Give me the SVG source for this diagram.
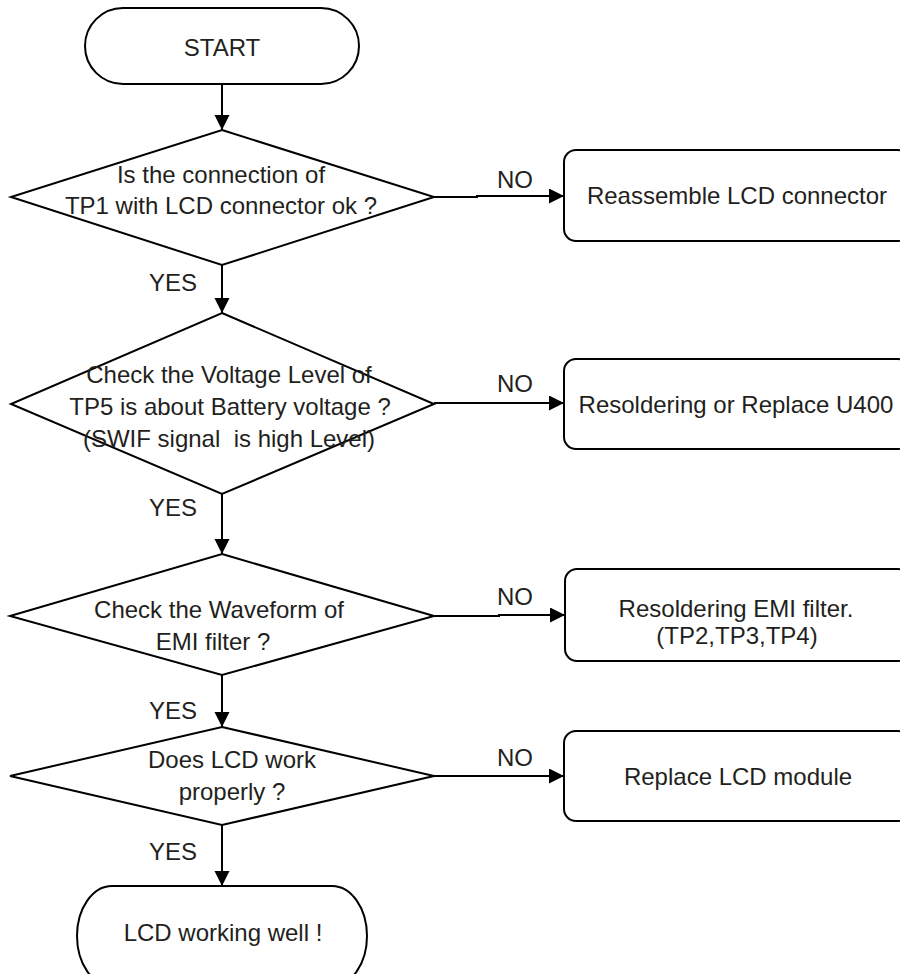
<svg xmlns="http://www.w3.org/2000/svg" width="900" height="974" viewBox="0 0 900 974">
<style>
.shape{fill:#fff;stroke:#000;stroke-width:2}
.conn{fill:none;stroke:#000;stroke-width:2}
text{font-family:"Liberation Sans",Arial,sans-serif;font-size:24px;fill:#231f20;text-anchor:middle;white-space:pre}
</style>
<defs>
<marker id="arr" markerUnits="userSpaceOnUse" markerWidth="16" markerHeight="16" refX="15" refY="7.5" orient="auto">
<path d="M0,0 L15,7.5 L0,15 Z" fill="#000"/>
</marker>
</defs>
<rect width="900" height="974" fill="#fff"/>
<g id="connectors">
<path class="conn" d="M222,84 V130" marker-end="url(#arr)"/>
<path class="conn" d="M222,265 V313" marker-end="url(#arr)"/>
<path class="conn" d="M222,494 V554" marker-end="url(#arr)"/>
<path class="conn" d="M222,675 V727" marker-end="url(#arr)"/>
<path class="conn" d="M222,825 V886" marker-end="url(#arr)"/>
<path class="conn" d="M434,197 H477 V196 H564" marker-end="url(#arr)"/>
<path class="conn" d="M434,403 H564" marker-end="url(#arr)"/>
<path class="conn" d="M434,616 H499 V615 H565" marker-end="url(#arr)"/>
<path class="conn" d="M434,776 H564" marker-end="url(#arr)"/>
<text x="173" y="291">YES</text>
<text x="173" y="516">YES</text>
<text x="173" y="719">YES</text>
<text x="173" y="860">YES</text>
<text x="515" y="188">NO</text>
<text x="515" y="392">NO</text>
<text x="515" y="605">NO</text>
<text x="515" y="766">NO</text>
</g>
<g id="start">
<rect class="shape" x="85" y="8" width="274" height="76" rx="38" ry="38"/>
<text x="222" y="56">START</text>
</g>
<g id="d1">
<polygon class="shape" points="222,130 434,197 222,265 11,197"/>
<text x="221" y="183">Is the connection of</text>
<text x="221" y="214">TP1 with LCD connector ok ?</text>
</g>
<g id="b1">
<rect class="shape" x="564" y="150" width="346" height="91" rx="12"/>
<text x="737" y="204">Reassemble LCD connector</text>
</g>
<g id="d2">
<polygon class="shape" points="222,313 434,404 222,494 11,404"/>
<text x="229" y="383">Check the Voltage Level of</text>
<text x="230" y="415">TP5 is about Battery voltage ?</text>
<text x="229" y="447">(SWIF signal  is high Level)</text>
</g>
<g id="b2">
<rect class="shape" x="564" y="359" width="346" height="90" rx="12"/>
<text x="736" y="413">Resoldering or Replace U400</text>
</g>
<g id="d3">
<polygon class="shape" points="222,554 434,616 222,675 10,616"/>
<text x="219" y="618">Check the Waveform of</text>
<text x="213" y="650">EMI filter ?</text>
</g>
<g id="b3">
<rect class="shape" x="565" y="569" width="345" height="92" rx="12"/>
<text x="736" y="617">Resoldering EMI filter.</text>
<text x="737" y="644">(TP2,TP3,TP4)</text>
</g>
<g id="d4">
<polygon class="shape" points="222,727 434,776 222,825 10,776"/>
<text x="232" y="768">Does LCD work</text>
<text x="232" y="800">properly ?</text>
</g>
<g id="b4">
<rect class="shape" x="564" y="731" width="346" height="90" rx="12"/>
<text x="738" y="785">Replace LCD module</text>
</g>
<g id="end">
<rect class="shape" x="77" y="886" width="290" height="100" rx="35" ry="50"/>
<text x="223" y="941">LCD working well !</text>
</g>
</svg>
